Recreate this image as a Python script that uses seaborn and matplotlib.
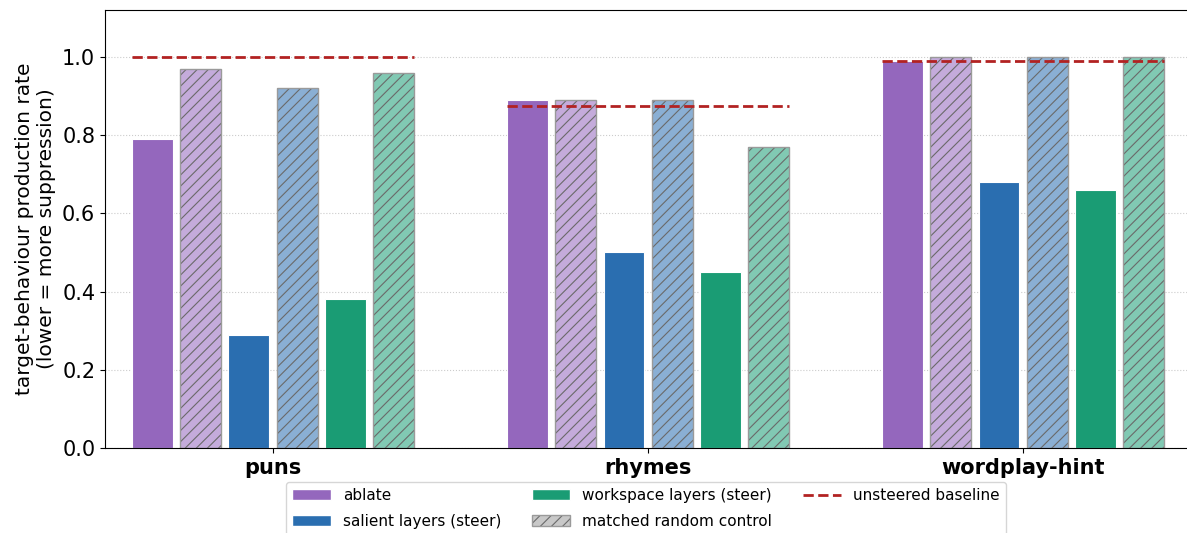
import numpy as np
import pandas as pd
import matplotlib
matplotlib.use("Agg")
import matplotlib.pyplot as plt
import seaborn as sns
from matplotlib.patches import Patch
from matplotlib.lines import Line2D
from matplotlib.colors import to_rgba, to_rgb

tasks = ["puns", "rhymes", "wordplay-hint"]
conditions = ["ablate", "ablate (random)", "salient layers (steer)", "salient (random)",
              "workspace layers (steer)", "workspace (random)"]
ablate = [0.79, 0.89, 0.99]
ablate_random = [0.97, 0.89, 1.00]
salient = [0.29, 0.50, 0.68]
salient_random = [0.92, 0.89, 1.00]
workspace = [0.38, 0.45, 0.66]
workspace_random = [0.96, 0.77, 1.00]
baseline = [1.00, 0.875, 0.99]

base_colors = ["#9467bd", "#9467bd", "#2a6eb0", "#2a6eb0", "#1a9c74", "#1a9c74"]
is_random = [False, True, False, True, False, True]

plt.rcParams["hatch.color"] = "#6a6a6a"
plt.rcParams["hatch.linewidth"] = 0.8

series = [ablate, ablate_random, salient, salient_random, workspace, workspace_random]
rows = []
for cond, vals in zip(conditions, series):
    for t, v in zip(tasks, vals):
        rows.append({"task": t, "condition": cond, "value": v})
df = pd.DataFrame(rows)

fig = plt.figure(figsize=(11.87, 5.33), dpi=100)
ax = fig.add_axes([105 / 1187, (533 - 448) / 533, 1 - 105 / 1187, (448 - 10) / 533])

sns.barplot(data=df, x="task", y="value", hue="condition", order=tasks,
            hue_order=conditions, palette=base_colors, width=0.77, gap=0.15,
            ax=ax, legend=False, errorbar=None, saturation=1)

hatch_col = to_rgba("#6a6a6a")
for cont, rnd in zip(ax.containers, is_random):
    for p in cont.patches:
        if rnd:
            p.set_alpha(None)
            fc = to_rgb(p.get_facecolor())
            fc = tuple(1 - (1 - c) * 0.55 for c in fc)
            p.set_facecolor(fc)
            p.set_edgecolor("#9a9a9a")
            p.set_hatch("///")
            p._hatch_color = hatch_col
            p.set_linewidth(1.0)
        else:
            p.set_edgecolor("white")
            p.set_linewidth(0.8)

xs = np.arange(len(tasks))
ax.hlines(baseline, xs - 0.375, xs + 0.375, colors="#b22222", linestyles="--", lw=2, zorder=5)

ax.set_xlim(-0.448, 2.437)
ax.set_ylim(0, 1.12)
ax.set_yticks([0.0, 0.2, 0.4, 0.6, 0.8, 1.0])
ax.tick_params(axis="y", labelsize=15)
ax.tick_params(axis="x", labelsize=15)
for lab in ax.get_xticklabels():
    lab.set_fontweight("bold")
ax.set_xlabel("")
ax.set_ylabel("target-behaviour production rate\n(lower = more suppression)", fontsize=14.5)
ax.yaxis.grid(True, linestyle=":", color="#cccccc", lw=0.8)
ax.set_axisbelow(True)
ax.spines["right"].set_visible(False)

legend_patch = Patch(facecolor="#c8c8c8", edgecolor="#9a9a9a", hatch="///",
                     label="matched random control")
legend_patch._hatch_color = hatch_col
handles = [
    Patch(facecolor="#9467bd", edgecolor="white", label="ablate"),
    Patch(facecolor="#2a6eb0", edgecolor="white", label="salient layers (steer)"),
    Patch(facecolor="#1a9c74", edgecolor="white", label="workspace layers (steer)"),
    legend_patch,
    Line2D([0], [0], color="#b22222", ls="--", lw=2, label="unsteered baseline"),
]
ax.legend(handles=handles, loc="upper center", bbox_to_anchor=(0.5, -0.06), ncol=3,
          fontsize=11, handlelength=2.5, labelspacing=0.7, frameon=True)

fig.savefig("out.png", dpi=100)
